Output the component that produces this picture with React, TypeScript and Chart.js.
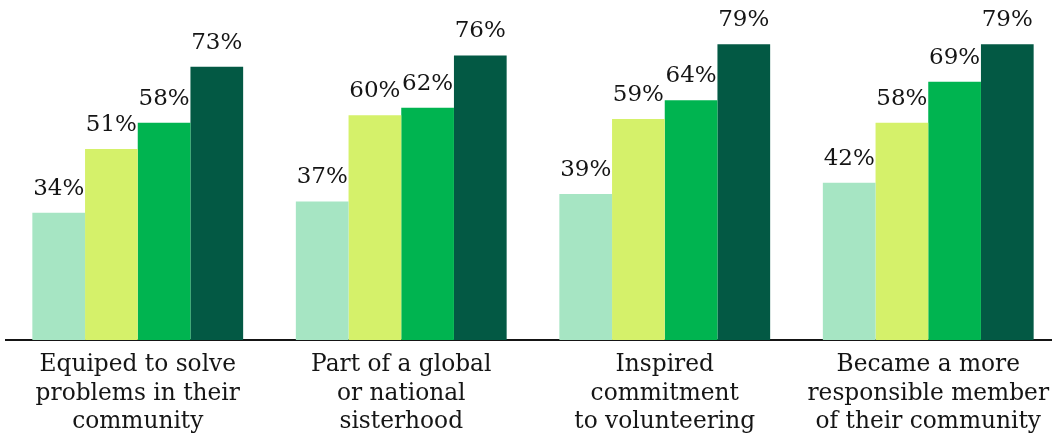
import React, { useEffect, useRef } from "react";
import { Chart, registerables } from "chart.js";

Chart.register(...registerables);

const categories: string[][] = [
  ["Equiped to solve", "problems in their", "community"],
  ["Part of a global", "or national", "sisterhood"],
  ["Inspired", "commitment", "to volunteering"],
  ["Became a more", "responsible member", "of their community"],
];

const series1 = [34, 37, 39, 42];
const series2 = [51, 60, 59, 58];
const series3 = [58, 62, 64, 69];
const series4 = [73, 76, 79, 79];

const colors = ["#a6e5c3", "#d5f16a", "#00b450", "#035944"];
const FONT = "'DejaVu Serif', serif";

const valueLabels = {
  id: "valueLabels",
  afterDatasetsDraw(chart: any) {
    const ctx = chart.ctx;
    ctx.save();
    ctx.font = `23px ${FONT}`;
    ctx.fillStyle = "#151515";
    ctx.textAlign = "center";
    ctx.textBaseline = "alphabetic";
    chart.data.datasets.forEach((ds: any, i: number) => {
      const meta = chart.getDatasetMeta(i);
      meta.data.forEach((bar: any, j: number) => {
        ctx.fillText(`${ds.data[j]}%`, bar.x, bar.y - 18);
      });
    });
    ctx.restore();
  },
};

export default function App() {
  const ref = useRef<HTMLCanvasElement>(null);
  useEffect(() => {
    if (!ref.current) return;
    const chart = new Chart(ref.current, {
      type: "bar",
      data: {
        labels: categories,
        datasets: [series1, series2, series3, series4].map((d, i) => ({
          label: `s${i}`,
          data: d,
          backgroundColor: colors[i],
          borderWidth: 0,
          categoryPercentage: 0.8,
          barPercentage: 1.0,
        })),
      },
      options: {
        responsive: false,
        animation: false,
        layout: { padding: { left: 6, right: 6, top: 3, bottom: 0 } },
        plugins: {
          legend: { display: false },
          tooltip: { enabled: false },
        },
        scales: {
          x: {
            grid: { display: false, drawTicks: false },
            border: { display: true, color: "#151515", width: 2 },
            ticks: {
              color: "#151515",
              font: { family: FONT, size: 23.3, lineHeight: 1.225 },
              padding: 11,
              maxRotation: 0,
              autoSkip: false,
            },
            afterFit: (scale: any) => {
              scale.height = 105;
            },
          },
          y: {
            display: false,
            min: 0,
            max: 90,
          },
        },
      },
      plugins: [valueLabels],
    });
    return () => chart.destroy();
  }, []);
  return (
    <div style={{ position: "fixed", left: 0, top: 0, width: 1052, height: 445, overflow: "hidden", background: "#fff" }}>
      <canvas ref={ref} width={1066} height={445} style={{ display: "block" }} />
    </div>
  );
}
